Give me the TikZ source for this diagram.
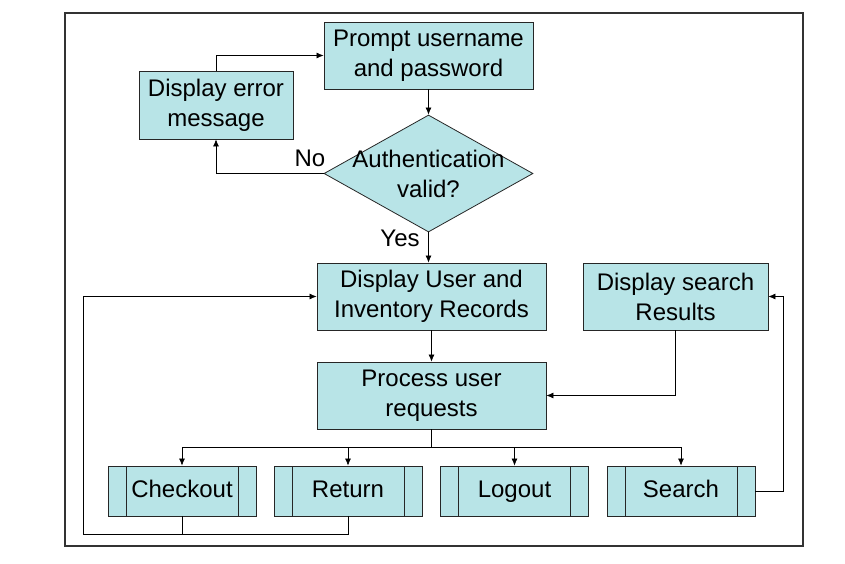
\documentclass[tikz,border=0pt]{standalone}
\usepackage{fontspec}
\setmainfont{Liberation Sans}
\usepackage{xcolor}
\usetikzlibrary{shapes.geometric,arrows.meta,positioning,calc}

\definecolor{boxfill}{RGB}{184,228,231}

\tikzset{
    procbox/.style={rectangle,draw=black!85,fill=boxfill,line width=0.8pt,
        align=center,inner sep=0pt},
    decision/.style={diamond,draw=black!85,fill=boxfill,line width=0.8pt,inner sep=0pt},
    subproc/.style={procbox,minimum width=148pt,minimum height=50pt,
        text height=17pt,text depth=5pt,
        path picture={
            \draw[line width=0.8pt,black!85]
                ([xshift=18pt]path picture bounding box.north west) -- ([xshift=18pt]path picture bounding box.south west)
                ([xshift=-18pt]path picture bounding box.north east) -- ([xshift=-18pt]path picture bounding box.south east);
        }},
    link/.style={line width=0.7pt,-{Latex[length=7pt,width=6pt]}},
}

\begin{document}
\begin{tikzpicture}[x=1pt,y=-1pt,font=\fontsize{24}{30}\selectfont]
    \useasboundingbox (0,0) rectangle (845,564);
    % rahmen
    \draw[line width=1.4pt,black!80] (65,13) rectangle (803,546);

    % anmeldung
    \node[procbox,minimum width=209pt,minimum height=67pt] (prompt) at (428.5,55.5) {Prompt username\\and password};
    \node[procbox,minimum width=154pt,minimum height=68pt] (error) at (216,105) {Display error\\message};
    \node[decision,minimum width=209pt,minimum height=117pt] (auth) at (428.5,173.5) {};
    \node[align=center] at (auth) {Authentication\\valid?};

    % hauptablauf
    \node[procbox,minimum width=229pt,minimum height=67pt] (records) at (431.5,296.5) {Display User and\\Inventory Records};
    \node[procbox,minimum width=185pt,minimum height=67pt] (results) at (675.5,296.5) {Display search\\Results};
    \node[procbox,minimum width=229pt,minimum height=67pt] (requests) at (431.5,395.5) {Process user\\requests};

    % unterprozesse
    \node[subproc] (checkout) at (182,491) {Checkout};
    \node[subproc] (return) at (348,491) {Return};
    \node[subproc] (logout) at (514.5,491) {Logout};
    \node[subproc] (search) at (681,491) {Search};

    % hilfspunkte
    \coordinate (split) at ($(requests.south)+(0,18)$);
    \coordinate (loopl) at (83,534);
    \coordinate (loopr) at (783,491);

    % verbindungen
    \draw[link] (prompt.south) -- (auth.north);
    \draw[link] (error.north) |- (prompt.west);
    \draw[link] (auth.west) -| (error.south);
    \draw[link] (auth.south) -- (auth.south |- records.north);
    \draw[link] (records.south) -- (requests.north);
    \draw[link] (results.south) |- (requests.east);
    \draw[line width=0.7pt] (requests.south) -- (split);
    \foreach \b in {checkout,return,logout,search}
        \draw[link] (split) -| (\b.north);
    \draw[line width=0.7pt] (checkout.south) -- (checkout.south |- loopl);
    \draw[link] (return.south) |- (loopl) |- (records.west);
    \draw[link] (search.east) -- (loopr) |- (results.east);

    % beschriftungen
    \node (no) at (310,158) {No};
    \node (yes) at (400,238) {Yes};
\end{tikzpicture}
\end{document}
